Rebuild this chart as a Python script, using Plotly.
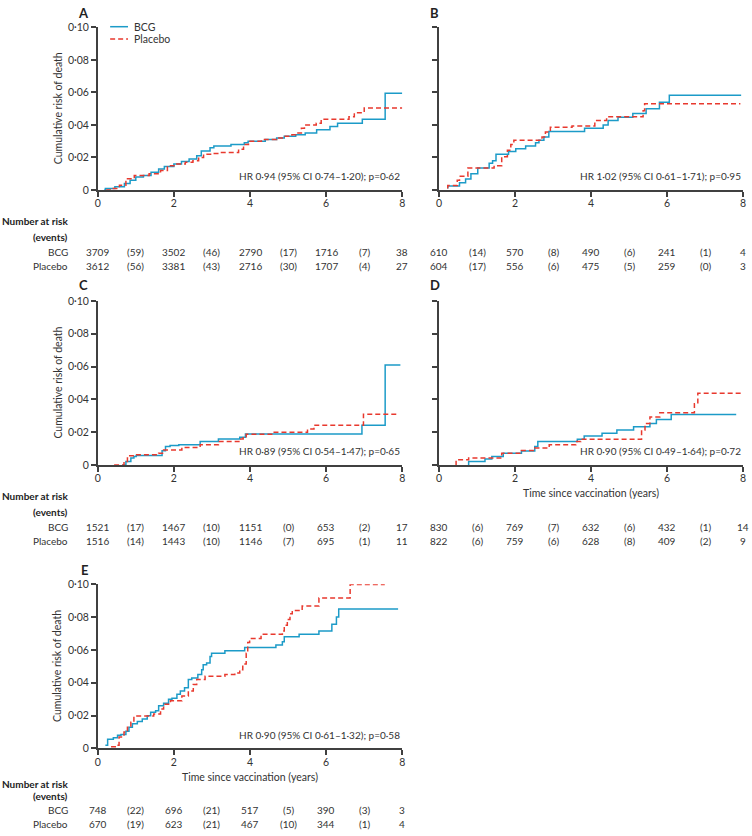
import plotly.graph_objects as go

# ---------------- data ----------------
panels = ["A", "B", "C", "D", "E"]

A_bcg_t = [0.17, 0.2, 0.45, 0.7, 0.85, 1.0, 1.2, 1.4, 1.6, 1.75, 2.0, 2.2, 2.4, 2.6, 2.72, 2.95, 3.05, 3.5, 3.85, 3.95, 4.4, 4.7, 4.9, 5.2, 5.45, 5.75, 6.1, 6.3, 6.95, 7.55, 8.0]
A_bcg_v = [0, 0.001, 0.002, 0.004, 0.006, 0.008, 0.009, 0.011, 0.013, 0.0145, 0.016, 0.0175, 0.019, 0.021, 0.024, 0.026, 0.027, 0.028, 0.029, 0.030, 0.031, 0.032, 0.033, 0.034, 0.035, 0.037, 0.039, 0.041, 0.0435, 0.0595, 0.0595]
A_pla_t = [0.22, 0.35, 0.57, 0.74, 0.96, 1.35, 1.65, 1.83, 2.04, 2.3, 2.5, 2.65, 2.78, 3.0, 3.2, 3.7, 3.83, 3.96, 4.3, 4.7, 4.9, 5.1, 5.2, 5.35, 5.43, 5.74, 5.87, 6.6, 6.74, 7.0, 8.0]
A_pla_v = [0, 0.001, 0.003, 0.007, 0.009, 0.010, 0.012, 0.015, 0.016, 0.017, 0.018, 0.020, 0.022, 0.0225, 0.023, 0.025, 0.028, 0.030, 0.031, 0.032, 0.033, 0.034, 0.035, 0.038, 0.040, 0.041, 0.0435, 0.045, 0.0475, 0.0505, 0.0505]

B_bcg_t = [0.23, 0.23, 0.54, 0.70, 0.84, 1.02, 1.32, 1.41, 1.5, 1.83, 2.02, 2.28, 2.54, 2.63, 2.76, 2.89, 3.83, 4.32, 4.45, 4.71, 5.1, 5.45, 5.8, 6.06, 7.95]
B_bcg_v = [0.001, 0.0024, 0.0044, 0.0068, 0.010, 0.0135, 0.0165, 0.018, 0.022, 0.0237, 0.0254, 0.027, 0.029, 0.0306, 0.0326, 0.036, 0.038, 0.040, 0.0427, 0.0447, 0.047, 0.050, 0.0539, 0.0582, 0.0582]
B_pla_t = [0.23, 0.23, 0.48, 0.54, 0.76, 1.45, 1.65, 1.8, 1.89, 1.97, 2.71, 2.8, 2.93, 3.5, 4.1, 4.41, 5.37, 5.41, 7.93]
B_pla_v = [0.001, 0.0028, 0.006, 0.0085, 0.0135, 0.015, 0.0205, 0.0245, 0.028, 0.0306, 0.0326, 0.0356, 0.0386, 0.0394, 0.0427, 0.045, 0.0487, 0.0531, 0.0531]

C_bcg_t = [0.65, 0.74, 0.87, 0.95, 1.01, 1.69, 1.78, 1.9, 2.13, 2.69, 3.17, 3.73, 3.88, 6.94, 7.55, 7.95]
C_bcg_v = [0, 0.0022, 0.0042, 0.0052, 0.0058, 0.0087, 0.0113, 0.0119, 0.0123, 0.0143, 0.0159, 0.0169, 0.0189, 0.0243, 0.061, 0.061]
C_pla_t = [0.43, 0.69, 0.78, 0.84, 1.0, 1.6, 1.73, 2.21, 2.69, 3.17, 3.73, 3.82, 3.9, 4.6, 5.51, 5.68, 6.98, 7.85]
C_pla_v = [0, 0.0022, 0.0042, 0.0056, 0.0062, 0.0072, 0.0092, 0.0107, 0.0123, 0.0143, 0.0159, 0.0173, 0.0187, 0.0199, 0.0219, 0.0243, 0.031, 0.031]

D_bcg_t = [0.76, 0.78, 1.21, 1.39, 1.69, 2.17, 2.52, 2.6, 3.64, 3.82, 4.29, 4.68, 5.12, 5.55, 5.72, 6.11, 7.82]
D_bcg_v = [0, 0.0022, 0.0036, 0.0052, 0.0072, 0.0086, 0.0113, 0.0143, 0.0157, 0.0177, 0.0193, 0.0213, 0.0233, 0.0253, 0.0277, 0.0308, 0.0308]
D_pla_t = [0.43, 0.45, 0.78, 1.65, 2.17, 2.52, 2.9, 3.6, 3.73, 5.33, 5.42, 5.55, 5.81, 6.72, 6.81, 8.0]
D_pla_v = [0, 0.0032, 0.0042, 0.0072, 0.0088, 0.0103, 0.0123, 0.0143, 0.0157, 0.0213, 0.0253, 0.0293, 0.0318, 0.0374, 0.0437, 0.0437]

E_bcg_t = [0.2, 0.26, 0.41, 0.52, 0.61, 0.74, 0.82, 0.91, 1.04, 1.17, 1.3, 1.39, 1.52, 1.6, 1.73, 1.86, 1.95, 2.08, 2.17, 2.28, 2.38, 2.47, 2.63, 2.73, 2.77, 2.86, 2.95, 2.99, 3.34, 3.86, 4.68, 4.85, 4.9, 5.29, 5.81, 6.15, 6.27, 6.33, 7.89]
E_bcg_v = [0.002, 0.0056, 0.0065, 0.008, 0.0085, 0.0105, 0.013, 0.015, 0.0165, 0.018, 0.020, 0.022, 0.023, 0.026, 0.0276, 0.030, 0.0306, 0.033, 0.035, 0.037, 0.042, 0.043, 0.045, 0.048, 0.051, 0.052, 0.056, 0.058, 0.0595, 0.0615, 0.063, 0.065, 0.068, 0.0695, 0.0716, 0.0756, 0.080, 0.085, 0.085]
E_pla_t = [0.35, 0.46, 0.56, 0.69, 0.78, 0.87, 0.95, 1.47, 1.65, 1.73, 1.91, 2.21, 2.38, 2.51, 2.6, 2.82, 3.34, 3.6, 3.73, 3.81, 3.9, 3.94, 3.99, 4.29, 4.85, 4.9, 4.98, 5.05, 5.11, 5.37, 5.81, 6.63, 7.54]
E_pla_v = [0.001, 0.002, 0.007, 0.010, 0.013, 0.016, 0.0198, 0.021, 0.024, 0.027, 0.029, 0.032, 0.035, 0.039, 0.042, 0.044, 0.045, 0.046, 0.048, 0.0514, 0.058, 0.0645, 0.067, 0.0695, 0.0716, 0.075, 0.0786, 0.082, 0.084, 0.0867, 0.0917, 0.0998, 0.0998]

curves = {
    "A": (A_bcg_t, A_bcg_v, A_pla_t, A_pla_v),
    "B": (B_bcg_t, B_bcg_v, B_pla_t, B_pla_v),
    "C": (C_bcg_t, C_bcg_v, C_pla_t, C_pla_v),
    "D": (D_bcg_t, D_bcg_v, D_pla_t, D_pla_v),
    "E": (E_bcg_t, E_bcg_v, E_pla_t, E_pla_v),
}

hr_text = {
    "A": "HR 0·94 (95% CI 0·74–1·20); p=0·62",
    "B": "HR 1·02 (95% CI 0·61–1·71); p=0·95",
    "C": "HR 0·89 (95% CI 0·54–1·47); p=0·65",
    "D": "HR 0·90 (95% CI 0·49–1·64); p=0·72",
    "E": "HR 0·90 (95% CI 0·61–1·32); p=0·58",
}

# number at risk (at 0,2,4,6,8) and events (in 0-2, 2-4, 4-6, 6-8)
risk_bcg = {
    "A": [3709, 3502, 2790, 1716, 38], "B": [610, 570, 490, 241, 4],
    "C": [1521, 1467, 1151, 653, 17], "D": [830, 769, 632, 432, 14],
    "E": [748, 696, 517, 390, 3],
}
events_bcg = {
    "A": [59, 46, 17, 7], "B": [14, 8, 6, 1], "C": [17, 10, 0, 2],
    "D": [6, 7, 6, 1], "E": [22, 21, 5, 3],
}
risk_pla = {
    "A": [3612, 3381, 2716, 1707, 27], "B": [604, 556, 475, 259, 3],
    "C": [1516, 1443, 1146, 695, 11], "D": [822, 759, 628, 409, 9],
    "E": [670, 623, 467, 344, 4],
}
events_pla = {
    "A": [56, 43, 30, 4], "B": [17, 6, 5, 0], "C": [14, 10, 7, 1],
    "D": [6, 6, 8, 2], "E": [19, 21, 10, 1],
}

count_times = [0, 2, 4, 6, 8]
event_times = [1, 3, 5, 7]
x_ticks = [0, 2, 4, 6, 8]
y_ticks = [0, 0.02, 0.04, 0.06, 0.08, 0.10]
y_ticktext = ["0", "0·02", "0·04", "0·06", "0·08", "0·10"]

# ---------------- layout helpers ----------------
W, H = 752, 836
FONT = "Lato, Roboto, Liberation Sans, sans-serif"
FS = 10          # table / HR text
FS_AX = 10.5     # tick labels, axis titles, legend
TXT = "#333333"
AX = "#404040"
BCG_COL = "#1c9bc8"
PLA_COL = "#e8392e"


def fx(p):
    return min(1.0, max(0.0, p / W))


def fy(p):
    return 1 - p / H


# pixel boxes: (left, right, top, bottom)
boxes = {
    "A": (95.5, 402.5, 21.7, 186.7),
    "B": (439.5, 746.0, 21.7, 186.7),
    "C": (95.5, 402.5, 299.3, 465.7),
    "D": (439.5, 746.0, 299.3, 465.7),
    "E": (95.5, 402.5, 586.7, 753.3),
}
# rows of risk table: (Number at risk, (events), BCG, Placebo) in pixels
table_rows = {
    "A": (218.5, 234.0, 249.5, 264.0),
    "B": (218.5, 234.0, 249.5, 264.0),
    "C": (497.5, 513.0, 528.5, 543.0),
    "D": (497.5, 513.0, 528.5, 543.0),
    "E": (789.0, 802.0, 816.0, 829.5),
}
title_pos = {"A": (81, 7), "B": (435, 7), "C": (81, 283), "D": (435, 283), "E": (82, 572)}

fig = go.Figure()
annotations = []
shapes = []
layout_axes = {}

for i, p in enumerate(panels):
    n = i + 1
    xa = "x" if n == 1 else f"x{n}"
    ya = "y" if n == 1 else f"y{n}"
    l, r, t, b = boxes[p]
    bt, bv, pt, pv = curves[p]
    fig.add_trace(go.Scatter(x=bt, y=bv, mode="lines", line_shape="hv",
                             line=dict(color=BCG_COL, width=1.5),
                             xaxis=xa, yaxis=ya, showlegend=False, name="BCG"))
    fig.add_trace(go.Scatter(x=pt, y=pv, mode="lines", line_shape="hv",
                             line=dict(color=PLA_COL, width=1.5, dash="5px,3px"),
                             xaxis=xa, yaxis=ya, showlegend=False, name="Placebo"))
    xkey = "xaxis" if n == 1 else f"xaxis{n}"
    ykey = "yaxis" if n == 1 else f"yaxis{n}"
    show_ylab = p in ("A", "C", "E")
    layout_axes[xkey] = dict(
        domain=[fx(l), fx(r)], range=[0, 8], anchor=ya,
        showline=True, linecolor=AX, linewidth=1.5, mirror=False,
        ticks="outside", ticklen=5, tickwidth=1.5, tickcolor=AX,
        tickvals=x_ticks, ticktext=[str(v) for v in x_ticks],
        ticklabelstandoff=-2,
        showgrid=False, zeroline=False, fixedrange=True,
        tickfont=dict(family=FONT, size=FS_AX, color=TXT),
    )
    layout_axes[ykey] = dict(
        domain=[fy(b), fy(t)], range=[0, 0.1], anchor=xa,
        showline=True, linecolor=AX, linewidth=1.5,
        ticks="outside", ticklen=5, tickwidth=1.5, tickcolor=AX,
        tickvals=y_ticks, ticktext=y_ticktext, showticklabels=show_ylab,
        showgrid=False, zeroline=False, fixedrange=True,
        tickfont=dict(family=FONT, size=FS_AX, color=TXT),
    )
    # panel letter
    tx, ty = title_pos[p]
    annotations.append(dict(text=f"<b>{p}</b>", x=fx(tx), y=fy(ty), xref="paper", yref="paper",
                            showarrow=False, xanchor="center", yanchor="middle",
                            font=dict(family=FONT, size=13, color="#222222")))
    # y title
    if show_ylab:
        annotations.append(dict(text="Cumulative risk of death", x=fx(55), y=fy((t + b) / 2),
                                xref="paper", yref="paper", textangle=-90, showarrow=False,
                                xanchor="center", yanchor="middle",
                                font=dict(family=FONT, size=FS_AX, color=TXT)))
    # HR text
    annotations.append(dict(text=hr_text[p], x=1, y=0.085, xref=f"{xa} domain", yref=f"{ya} domain",
                            showarrow=False, xanchor="right", yanchor="middle",
                            font=dict(family=FONT, size=FS, color=TXT)))
    # x title
    if p in ("D", "E"):
        xt_y = 494 if p == "D" else 782
        annotations.append(dict(text="Time since vaccination (years)", x=0.5, y=fy(xt_y),
                                xref=f"{xa} domain", yref="paper", showarrow=False,
                                xanchor="center", yanchor="middle",
                                font=dict(family=FONT, size=FS_AX, color=TXT)))
    # risk table
    r_nar, r_ev, r_b, r_p = table_rows[p]
    if p in ("A", "C", "E"):
        annotations.append(dict(text="<b>Number at risk</b>", x=fx(68), y=fy(r_nar), xref="paper", yref="paper",
                                showarrow=False, xanchor="right", yanchor="middle",
                                font=dict(family=FONT, size=FS, color="#222222")))
        annotations.append(dict(text="<b>(events)</b>", x=fx(68), y=fy(r_ev), xref="paper", yref="paper",
                                showarrow=False, xanchor="right", yanchor="middle",
                                font=dict(family=FONT, size=FS, color="#222222")))
        annotations.append(dict(text="BCG", x=fx(68), y=fy(r_b), xref="paper", yref="paper",
                                showarrow=False, xanchor="right", yanchor="middle",
                                font=dict(family=FONT, size=FS, color=TXT)))
        annotations.append(dict(text="Placebo", x=fx(68), y=fy(r_p), xref="paper", yref="paper",
                                showarrow=False, xanchor="right", yanchor="middle",
                                font=dict(family=FONT, size=FS, color=TXT)))
    for row_y, counts, evs in ((r_b, risk_bcg[p], events_bcg[p]), (r_p, risk_pla[p], events_pla[p])):
        for tt, c in zip(count_times, counts):
            annotations.append(dict(text=str(c), x=tt, y=fy(row_y), xref=xa, yref="paper",
                                    showarrow=False, xanchor="center", yanchor="middle",
                                    font=dict(family=FONT, size=FS, color=TXT)))
        for tt, e in zip(event_times, evs):
            annotations.append(dict(text=f"({e})", x=tt, y=fy(row_y), xref=xa, yref="paper",
                                    showarrow=False, xanchor="center", yanchor="middle",
                                    font=dict(family=FONT, size=FS, color=TXT)))

# legend (panel A)
shapes.append(dict(type="line", xref="paper", yref="paper", x0=fx(108), x1=fx(126), y0=fy(21), y1=fy(21),
                   line=dict(color=BCG_COL, width=1.5)))
shapes.append(dict(type="line", xref="paper", yref="paper", x0=fx(108), x1=fx(126), y0=fy(33.5), y1=fy(33.5),
                   line=dict(color=PLA_COL, width=1.5, dash="5px,3px")))
annotations.append(dict(text="BCG", x=fx(130), y=fy(21), xref="paper", yref="paper", showarrow=False,
                        xanchor="left", yanchor="middle", font=dict(family=FONT, size=FS_AX, color=TXT)))
annotations.append(dict(text="Placebo", x=fx(130), y=fy(33.5), xref="paper", yref="paper", showarrow=False,
                        xanchor="left", yanchor="middle", font=dict(family=FONT, size=FS_AX, color=TXT)))

fig.update_layout(
    width=W, height=H, margin=dict(l=0, r=0, t=0, b=0),
    paper_bgcolor="white", plot_bgcolor="white",
    font=dict(family=FONT, size=FS, color=TXT),
    annotations=annotations, shapes=shapes, showlegend=False,
    **layout_axes,
)

fig.write_html("out.html", include_plotlyjs=True, full_html=True,
               config={"displayModeBar": False},
               post_script="document.body.style.margin='0';")
